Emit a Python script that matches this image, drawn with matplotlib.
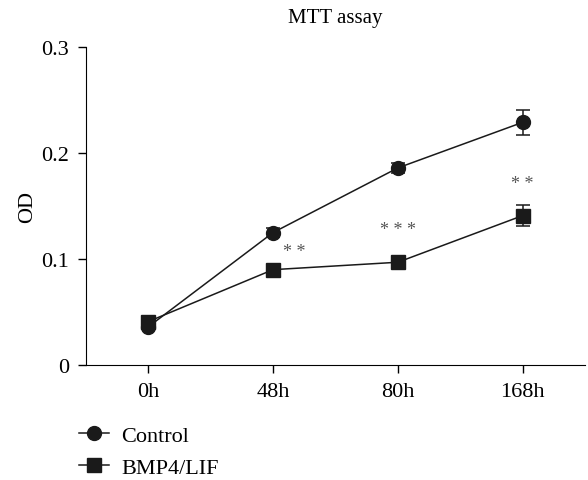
import matplotlib.pyplot as plt
from matplotlib.lines import Line2D
import numpy as np

plt.rcParams['font.family'] = ['Liberation Serif', 'DejaVu Serif']

times = ['0h', '48h', '80h', '168h']
control = [0.036, 0.125, 0.186, 0.229]
control_err = [0.002, 0.004, 0.005, 0.012]
bmp4 = [0.041, 0.090, 0.097, 0.141]
bmp4_err = [0.002, 0.002, 0.002, 0.010]
stars = ['', '**', '***', '**']
star_y = [0, 0.107, 0.128, 0.171]
star_dx = [0, 0.17, 0, 0]

fig = plt.figure(figsize=(5.88, 4.81), dpi=100)
ax = fig.add_axes([0.146, 0.239, 0.849, 0.661])

x = np.arange(len(times))
ax.errorbar(x, control, yerr=control_err, color='#1a1a1a', marker='o', ms=10,
            lw=1.1, capsize=5, elinewidth=1.1, capthick=1.1)
ax.errorbar(x, bmp4, yerr=bmp4_err, color='#1a1a1a', marker='s', ms=10,
            lw=1.1, capsize=5, elinewidth=1.1, capthick=1.1)

for i, s in enumerate(stars):
    if s:
        ax.text(x[i] + star_dx[i], star_y[i], ' '.join(s), ha='center', va='center',
                fontsize=13, color='#555555')

ax.set_xlim(-0.5, 3.5)
ax.set_ylim(0, 0.3)
ax.set_xticks(x)
ax.set_xticklabels(times)
ax.set_yticks([0, 0.1, 0.2, 0.3])
ax.set_yticklabels(['0', '0.1', '0.2', '0.3'])
ax.spines['top'].set_visible(False)
ax.spines['right'].set_visible(False)
ax.tick_params(direction='out', length=6, width=1, labelsize=16, pad=6)
ax.set_ylabel('OD', fontsize=16, labelpad=3)
ax.set_title('MTT assay', fontsize=15, pad=18)

handles = [Line2D([], [], color='#1a1a1a', marker='o', ms=10, lw=1.1),
           Line2D([], [], color='#1a1a1a', marker='s', ms=10, lw=1.1)]
fig.legend(handles, ['Control', 'BMP4/LIF'], loc='upper left',
           bbox_to_anchor=(0.1, 0.155), frameon=False,
           fontsize=16, handlelength=1.35, handletextpad=0.55, labelspacing=0.5)

fig.savefig('out.png', dpi=100)
